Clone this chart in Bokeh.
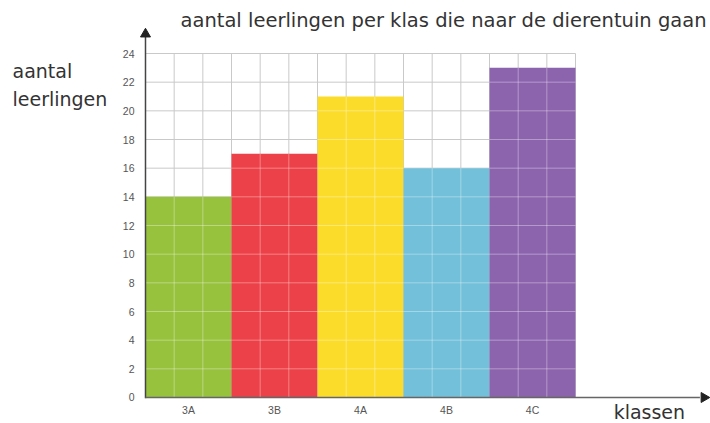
import math
from bokeh.plotting import figure
from bokeh.models import Range1d, Label
from bokeh.core.properties import value
from bokeh.embed import file_html
from bokeh.resources import INLINE

# data
classes = ["3A", "3B", "4A", "4B", "4C"]
counts = [14, 17, 21, 16, 23]
colors = ["#97c23d", "#ec4148", "#fcdc2b", "#73c0da", "#8c64ae"]
y_ticks = list(range(0, 25, 2))
y_tick_labels = [str(t) for t in y_ticks]
title_text = "aantal leerlingen per klas die naar de dierentuin gaan"
y_title = ["aantal", "leerlingen"]
x_title = "klassen"

cols_per_bar = 3
ncols = cols_per_bar * len(classes)
ymax = y_ticks[-1]

p = figure(width=710, height=423, output_backend="svg", toolbar_location=None,
           x_range=Range1d(-5.058, 19.709), y_range=Range1d(-1.814, 27.698),
           min_border=0, x_axis_location=None, y_axis_location=None)
p.outline_line_color = None
p.xgrid.visible = False
p.ygrid.visible = False
p.background_fill_color = "white"
p.border_fill_color = "white"

# grid (gray)
vx = list(range(ncols + 1))
p.segment(x0=vx, x1=vx, y0=[0] * len(vx), y1=[ymax] * len(vx), line_color="#c9c9c9", line_width=1)
p.segment(x0=[0] * len(y_ticks), x1=[ncols] * len(y_ticks), y0=y_ticks, y1=y_ticks,
          line_color="#c9c9c9", line_width=1)

# bars
centers = [cols_per_bar * i + cols_per_bar / 2 for i in range(len(classes))]
p.vbar(x=centers, top=counts, width=cols_per_bar, bottom=0, fill_color=colors, line_color=None)

# light grid on top of bars
sx0, sx1, sy0, sy1 = [], [], [], []
for i, h in enumerate(counts):
    left = cols_per_bar * i
    for k in range(1, cols_per_bar):
        sx0.append(left + k); sx1.append(left + k); sy0.append(0); sy1.append(h)
    for t in y_ticks:
        if 0 < t < h:
            sx0.append(left); sx1.append(left + cols_per_bar); sy0.append(t); sy1.append(t)
p.segment(x0=sx0, x1=sx1, y0=sy0, y1=sy1, line_color="white", line_alpha=0.35, line_width=1)

# tick labels
p.text(x=[-0.384] * len(y_ticks), y=y_ticks, text=y_tick_labels, text_font=value("Liberation Sans"),
       text_font_size="10.5px", text_color="#555555", text_align="right", text_baseline="middle")
p.text(x=centers, y=[-0.907] * len(centers), text=classes, text_font=value("Liberation Sans"),
       text_font_size="10.5px", text_color="#555555", text_align="center", text_baseline="middle")

# axis lines with arrow heads
y_tip = 25.67
x_tip = 19.64
p.segment(x0=[0], y0=[-0.05], x1=[0], y1=[y_tip - 0.5], line_color="#444444", line_width=1.5)
p.segment(x0=[0], y0=[0], x1=[x_tip - 0.3], y1=[0], line_color="#666666", line_width=1.5)
p.scatter(x=[0], y=[y_tip - 4.5 / 14.333], marker="triangle", size=10,
          fill_color="#222222", line_color="#222222")
p.scatter(x=[x_tip - 4.5 / 28.667], y=[0], marker="triangle", size=10, angle=-math.pi / 2,
          fill_color="#222222", line_color="#222222")

# texts
p.add_layout(Label(x=1.221, y=26.30, text=title_text, text_font="DejaVu Sans", text_font_size="19.5px",
                   text_color="#333333", text_baseline="middle", text_align="left"))
p.add_layout(Label(x=-4.64, y=22.81, text=y_title[0], text_font="DejaVu Sans", text_font_size="19px",
                   text_color="#333333", text_baseline="middle", text_align="left"))
p.add_layout(Label(x=-4.64, y=20.86, text=y_title[1], text_font="DejaVu Sans", text_font_size="19px",
                   text_color="#333333", text_baseline="middle", text_align="left"))
p.add_layout(Label(x=16.33, y=-0.977, text=x_title, text_font="DejaVu Sans", text_font_size="19px",
                   text_color="#333333", text_baseline="middle", text_align="left"))

open("out.html", "w").write(file_html(p, INLINE))
